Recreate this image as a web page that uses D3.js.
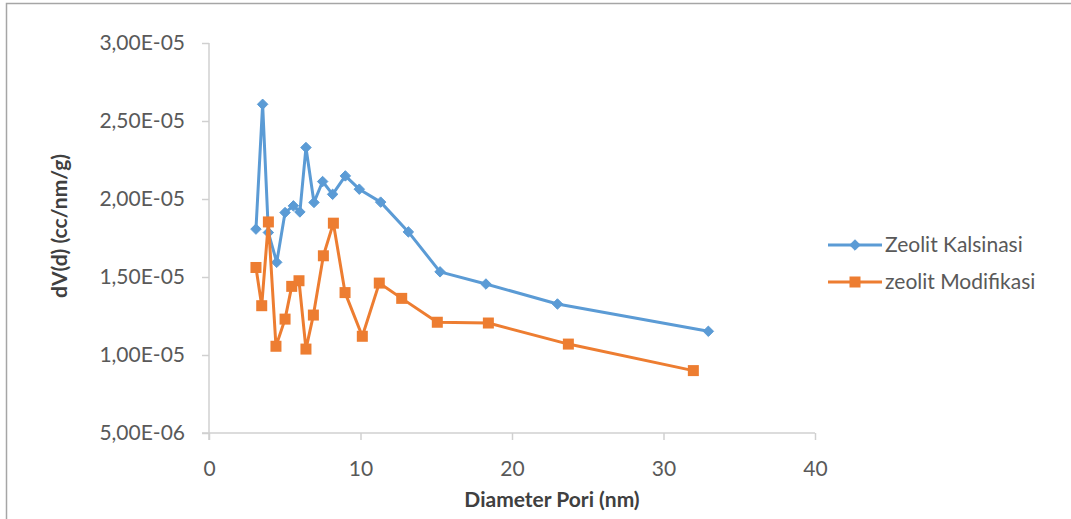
<!DOCTYPE html>
<html>
<head>
<meta charset="utf-8">
<script src="https://cdn.jsdelivr.net/npm/d3@7"></script>
<style>
body { margin: 0; background: #fff; }
svg text { font-family: Lato, "Open Sans", sans-serif; fill: #595959; }
</style>
</head>
<body>
<div id="chart"></div>
<script>
var WIDTH = 1071;
var HEIGHT = 519;

// Zeolit Kalsinasi (blue)
var kalsinasiX = [3.10, 3.54, 3.92, 4.47, 5.02, 5.57, 6.00, 6.40, 6.93, 7.50, 8.16, 9.00, 9.92, 11.33, 13.16, 15.25, 18.28, 23.00, 32.96];
var kalsinasiY = [1.807e-5, 2.607e-5, 1.785e-5, 1.594e-5, 1.913e-5, 1.956e-5, 1.917e-5, 2.330e-5, 1.978e-5, 2.112e-5, 2.030e-5, 2.148e-5, 2.063e-5, 1.980e-5, 1.789e-5, 1.533e-5, 1.455e-5, 1.327e-5, 1.152e-5];

// zeolit Modifikasi (orange)
var modifikasiX = [3.10, 3.48, 3.92, 4.42, 5.02, 5.46, 5.94, 6.40, 6.89, 7.55, 8.21, 8.98, 10.12, 11.24, 12.72, 15.07, 18.44, 23.72, 31.97];
var modifikasiY = [1.561e-5, 1.316e-5, 1.853e-5, 1.056e-5, 1.230e-5, 1.440e-5, 1.476e-5, 1.038e-5, 1.256e-5, 1.636e-5, 1.845e-5, 1.400e-5, 1.120e-5, 1.461e-5, 1.363e-5, 1.210e-5, 1.205e-5, 1.070e-5, 0.900e-5];

var xTicks = [0, 10, 20, 30, 40];
var yTicks = [5e-6, 1e-5, 1.5e-5, 2e-5, 2.5e-5, 3e-5];
var yTickLabels = ["5,00E-06", "1,00E-05", "1,50E-05", "2,00E-05", "2,50E-05", "3,00E-05"];

var seriesNames = ["Zeolit Kalsinasi", "zeolit Modifikasi"];
var COLORS = ["#5b9bd5", "#ed7d31"];

var series = [
	{name: seriesNames[0], color: COLORS[0], shape: "diamond", points: kalsinasiX.map((x, i) => ({x: x, y: kalsinasiY[i]}))},
	{name: seriesNames[1], color: COLORS[1], shape: "square", points: modifikasiX.map((x, i) => ({x: x, y: modifikasiY[i]}))}
];

var PLOT = {left: 209, right: 815, top: 43, bottom: 433};
var AXIS_COLOR = "#d0d0d0";

var x = d3.scaleLinear().domain([0, 40]).range([PLOT.left, PLOT.right]);
var y = d3.scaleLinear().domain([5e-6, 3e-5]).range([PLOT.bottom, PLOT.top]);

var svg = d3.select("#chart").append("svg")
	.attr("width", WIDTH)
	.attr("height", HEIGHT);

// outer frame, cut off at the right and bottom
svg.append("rect")
	.attr("x", 6.5)
	.attr("y", 3.5)
	.attr("width", WIDTH + 10)
	.attr("height", HEIGHT + 10)
	.attr("fill", "none")
	.attr("stroke", "#a6a6a6")
	.attr("stroke-width", 1.5);

// y axis
var yAxis = d3.axisLeft(y)
	.tickValues(yTicks)
	.tickFormat((d, i) => yTickLabels[i])
	.tickSize(7)
	.tickPadding(17);
var gy = svg.append("g")
	.attr("transform", "translate(" + PLOT.left + ",0)")
	.call(yAxis);

// x axis
var xAxis = d3.axisBottom(x)
	.tickValues(xTicks)
	.tickSize(7)
	.tickPadding(21);
var gx = svg.append("g")
	.attr("transform", "translate(0," + PLOT.bottom + ")")
	.call(xAxis);

[gx, gy].forEach(function(g) {
	g.select(".domain").attr("stroke", AXIS_COLOR).attr("stroke-width", 1.5);
	g.selectAll(".tick line").attr("stroke", AXIS_COLOR).attr("stroke-width", 1.5);
	g.selectAll(".tick text")
		.style("font-family", "Lato, 'Open Sans', sans-serif")
		.style("font-size", "21px")
		.attr("fill", "#595959");
});
// extend the domains past the crossing point, like Excel does
gy.select(".domain").attr("d", "M0," + PLOT.top + "V" + (PLOT.bottom + 7));
gx.select(".domain").attr("d", "M" + (PLOT.left - 7) + ",0H" + PLOT.right);

// axis titles
svg.append("text")
	.attr("x", 552)
	.attr("y", 507)
	.attr("text-anchor", "middle")
	.style("font-size", "21px")
	.style("font-weight", "bold")
	.attr("fill", "#404040")
	.style("fill", "#404040")
	.text("Diameter Pori (nm)");

svg.append("text")
	.attr("transform", "translate(67,226) rotate(-90)")
	.attr("text-anchor", "middle")
	.style("font-size", "21px")
	.style("font-weight", "bold")
	.style("fill", "#404040")
	.text("dV(d) (cc/nm/g)");

var line = d3.line()
	.x(d => x(d.x))
	.y(d => y(d.y));

function drawMarker(g, shape, color, cx, cy) {
	if(shape === "diamond") {
		g.append("path")
			.attr("d", d3.symbol().type(d3.symbolDiamond2).size(70)())
			.attr("transform", "translate(" + cx + "," + cy + ")")
			.attr("fill", color)
			.attr("stroke", color)
			.attr("stroke-width", 1);
	} else {
		g.append("rect")
			.attr("x", cx - 5.5)
			.attr("y", cy - 5.5)
			.attr("width", 11)
			.attr("height", 11)
			.attr("fill", color);
	}
}

// draw orange first so blue sits on top where they cross? Excel draws series in order
series.forEach(function(s) {
	var g = svg.append("g");
	g.append("path")
		.datum(s.points)
		.attr("d", line)
		.attr("fill", "none")
		.attr("stroke", s.color)
		.attr("stroke-width", 3)
		.attr("stroke-linejoin", "round");
	s.points.forEach(function(p) {
		drawMarker(g, s.shape, s.color, x(p.x), y(p.y));
	});
});

// legend
var legendY = [245, 282];
series.forEach(function(s, i) {
	var g = svg.append("g");
	g.append("line")
		.attr("x1", 828)
		.attr("x2", 882)
		.attr("y1", legendY[i])
		.attr("y2", legendY[i])
		.attr("stroke", s.color)
		.attr("stroke-width", 3);
	drawMarker(g, s.shape, s.color, 855, legendY[i]);
	g.append("text")
		.attr("x", 885)
		.attr("y", legendY[i])
		.attr("dy", "0.35em")
		.style("font-size", "21px")
		.style("fill", "#595959")
		.text(s.name);
});
</script>
</body>
</html>
